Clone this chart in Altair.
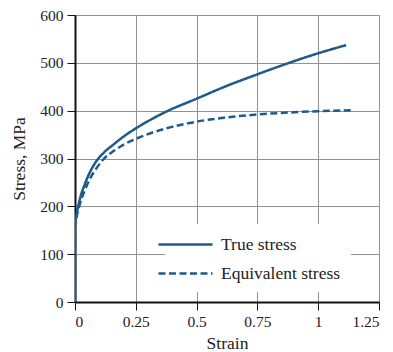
import altair as alt
import pandas as pd

strain_true = [0, 0, 0.005, 0.02, 0.04, 0.06, 0.09, 0.12, 0.16, 0.2, 0.25, 0.3, 0.375, 0.5, 0.625, 0.75, 0.875, 1.0, 1.115]
stress_true = [0, 160, 178, 215, 246, 270, 296, 313, 330, 346, 363, 378, 398, 425, 452, 476, 499, 520, 537]

strain_eq = [0, 0, 0.005, 0.02, 0.04, 0.06, 0.09, 0.12, 0.16, 0.2, 0.25, 0.3, 0.375, 0.5, 0.625, 0.75, 0.875, 1.0, 1.14]
stress_eq = [0, 160, 174, 205, 233, 256, 281, 300, 316, 329, 341, 351, 363, 377, 386, 392, 396, 399, 401]

series = ["True stress", "Equivalent stress"]
x_ticks = [0, 0.25, 0.5, 0.75, 1, 1.25]
y_ticks = [0, 100, 200, 300, 400, 500, 600]

rows = []
for i, (x, y) in enumerate(zip(strain_true, stress_true)):
    rows.append({"Strain": x, "Stress": y, "Series": series[0], "order": i})
for i, (x, y) in enumerate(zip(strain_eq, stress_eq)):
    rows.append({"Strain": x, "Stress": y, "Series": series[1], "order": i})
df = pd.DataFrame(rows)

color = "#1d5a8e"
font = "Liberation Serif"

chart = alt.Chart(df).mark_line(strokeWidth=2.5, color=color, clip=True,
                                interpolate="monotone").encode(
    x=alt.X("Strain:Q",
            scale=alt.Scale(domain=[0, 1.25], nice=False),
            axis=alt.Axis(values=x_ticks, format=".3~g", labelOverlap=False,
                          title="Strain", titlePadding=5)),
    y=alt.Y("Stress:Q",
            scale=alt.Scale(domain=[0, 600], nice=False),
            axis=alt.Axis(values=y_ticks, format=".3~g",
                          title="Stress, MPa", titlePadding=11)),
    strokeDash=alt.StrokeDash("Series:N",
                              scale=alt.Scale(domain=series, range=[[1, 0], [7, 3.5]]),
                              legend=alt.Legend(title=None, orient="none",
                                                legendX=90, legendY=209,
                                                fillColor="white", padding=10,
                                                symbolType="M-3,0H3",
                                                symbolSize=324,
                                                symbolStrokeWidth=2.5,
                                                symbolStrokeColor=color,
                                                symbolFillColor="transparent",
                                                labelOffset=25,
                                                rowPadding=10,
                                                labelFont=font, labelFontSize=17.5,
                                                labelColor="#222",
                                                labelLimit=300)),
    order="order:Q",
).properties(
    width=304, height=287,
    autosize=alt.AutoSizeParams(type="none"),
    padding={"left": 75, "top": 15, "right": 14, "bottom": 50},
).configure_view(
    strokeWidth=0
).configure_axis(
    labelFont=font, titleFont=font, labelFontSize=15.5, titleFontSize=17.5,
    labelColor="#222", titleColor="#222", titleFontWeight="normal",
    domainColor="#111", domainWidth=2, tickColor="#111", tickSize=8, tickWidth=1,
    gridColor="#929292", gridWidth=1, labelPadding=4,
)

chart.save("out.html", embed_options={"renderer": "svg", "actions": False})
